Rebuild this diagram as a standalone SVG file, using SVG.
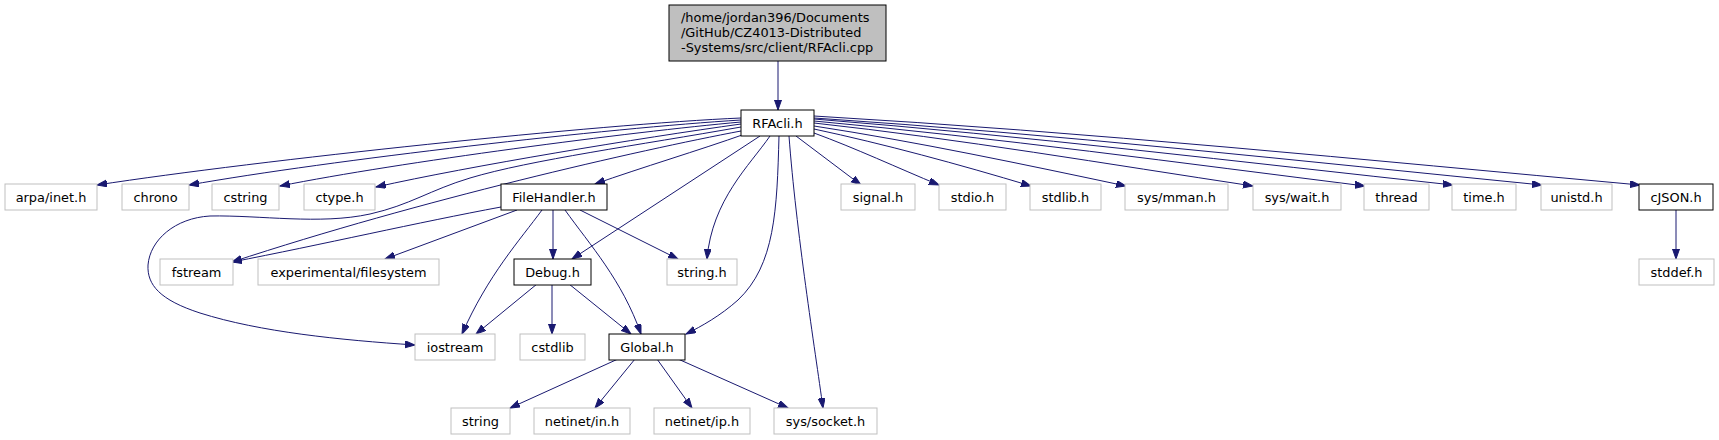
<svg xmlns="http://www.w3.org/2000/svg" width="1719" height="440" viewBox="0 0 1719 440">
<style>
.g rect{fill:#ffffff;stroke:#bfbfbf;stroke-width:1}
.d rect{fill:#ffffff;stroke:#000000;stroke-width:1}
text{font-family:"DejaVu Sans","Liberation Sans",sans-serif;font-size:12.9px;fill:#000000}
.c{text-anchor:middle}
#edges path{fill:none;stroke:#191970;stroke-width:1;marker-end:url(#ah)}
</style>
<defs>
<marker id="ah" markerUnits="userSpaceOnUse" markerWidth="11" markerHeight="8" refX="10" refY="3.5" orient="auto">
<polygon points="0,0 10,3.5 0,7" fill="#191970" stroke="#191970" stroke-width="1"/>
</marker>
</defs>
<rect width="1719" height="440" fill="#ffffff"/>
<g id="edges">
<path d="M778,61 L778,110"/>
<path d="M741,118 C600,124 260,160 97,185"/>
<path d="M741,120 C610,128 330,160 189,185"/>
<path d="M741,122 C630,132 400,162 280,186"/>
<path d="M741,124 C640,138 470,166 376,187"/>
<path d="M741,127 C640,145 530,160 470,178 C430,190 410,205 370,214 C320,225 260,215 210,216 C175,218 150,240 148,265 C147,285 160,300 200,313 C260,332 340,340 415,345"/>
<path d="M741,131 C640,150 420,200 232,262"/>
<path d="M745,134 C700,150 640,168 595,184"/>
<path d="M760,136 L572,259"/>
<path d="M770,136 C750,165 712,200 707,259"/>
<path d="M779,136 C777,210 775,265 738,300 C720,316 702,326 686,334"/>
<path d="M789,136 C796,230 815,350 823,408"/>
<path d="M796,136 L861,185"/>
<path d="M814,133 C855,148 898,168 939,185"/>
<path d="M814,129 C884,144 958,164 1031,186"/>
<path d="M814,126 C918,142 1022,164 1126,186"/>
<path d="M814,123 C960,139 1107,164 1253,186"/>
<path d="M814,121 C998,138 1181,163 1365,186"/>
<path d="M814,119 C1027,136 1240,162 1453,185"/>
<path d="M814,118 C1057,134 1299,161 1542,185"/>
<path d="M814,116 C1089,132 1365,160 1640,185"/>
<path d="M1676,210 L1676,259"/>
<path d="M501,207 C420,222 320,245 232,262"/>
<path d="M517,210 L385,259"/>
<path d="M542,210 C520,240 488,275 462,334"/>
<path d="M553,210 L553,259"/>
<path d="M565,210 C590,245 622,280 641,334"/>
<path d="M580,210 L678,259"/>
<path d="M537,284 L476,334"/>
<path d="M552,284 L552,334"/>
<path d="M569,284 L631,334"/>
<path d="M618,359 L510,408"/>
<path d="M635,359 L595,408"/>
<path d="M657,359 L692,408"/>
<path d="M678,359 L788,408"/>
</g>
<g id="n_root"><rect x="669" y="5" width="217" height="56" fill="#bfbfbf" stroke="#000000"/><text x="681" y="21.5">/home/jordan396/Documents</text><text x="681" y="36.5">/GitHub/CZ4013-Distributed</text><text x="681" y="51.5">-Systems/src/client/RFAcli.cpp</text></g>
<g id="n_rfacli" class="d"><rect x="741" y="110" width="73" height="26"/><text class="c" x="777.5" y="127.5">RFAcli.h</text></g>
<g id="n_arpa" class="g"><rect x="5" y="184" width="92" height="26"/><text class="c" x="51" y="201.5">arpa/inet.h</text></g>
<g id="n_chrono" class="g"><rect x="122" y="184" width="67" height="26"/><text class="c" x="155.5" y="201.5">chrono</text></g>
<g id="n_cstring" class="g"><rect x="212" y="184" width="67" height="26"/><text class="c" x="245.5" y="201.5">cstring</text></g>
<g id="n_ctype" class="g"><rect x="304" y="184" width="71" height="26"/><text class="c" x="339.5" y="201.5">ctype.h</text></g>
<g id="n_filehandler" class="d"><rect x="501" y="184" width="106" height="26"/><text class="c" x="554" y="201.5">FileHandler.h</text></g>
<g id="n_signal" class="g"><rect x="841" y="184" width="74" height="26"/><text class="c" x="878" y="201.5">signal.h</text></g>
<g id="n_stdio" class="g"><rect x="939" y="184" width="67" height="26"/><text class="c" x="972.5" y="201.5">stdio.h</text></g>
<g id="n_stdlib" class="g"><rect x="1030" y="184" width="71" height="26"/><text class="c" x="1065.5" y="201.5">stdlib.h</text></g>
<g id="n_mman" class="g"><rect x="1125" y="184" width="103" height="26"/><text class="c" x="1176.5" y="201.5">sys/mman.h</text></g>
<g id="n_wait" class="g"><rect x="1253" y="184" width="88" height="26"/><text class="c" x="1297" y="201.5">sys/wait.h</text></g>
<g id="n_thread" class="g"><rect x="1364" y="184" width="65" height="26"/><text class="c" x="1396.5" y="201.5">thread</text></g>
<g id="n_time" class="g"><rect x="1452" y="184" width="64" height="26"/><text class="c" x="1484" y="201.5">time.h</text></g>
<g id="n_unistd" class="g"><rect x="1541" y="184" width="71" height="26"/><text class="c" x="1576.5" y="201.5">unistd.h</text></g>
<g id="n_cjson" class="d"><rect x="1639" y="184" width="74" height="26"/><text class="c" x="1676" y="201.5">cJSON.h</text></g>
<g id="n_stddef" class="g"><rect x="1639" y="259" width="75" height="26"/><text class="c" x="1676.5" y="276.5">stddef.h</text></g>
<g id="n_fstream" class="g"><rect x="160" y="259" width="73" height="26"/><text class="c" x="196.5" y="276.5">fstream</text></g>
<g id="n_expfs" class="g"><rect x="258" y="259" width="181" height="26"/><text class="c" x="348.5" y="276.5">experimental/filesystem</text></g>
<g id="n_debug" class="d"><rect x="514" y="259" width="77" height="26"/><text class="c" x="552.5" y="276.5">Debug.h</text></g>
<g id="n_stringh" class="g"><rect x="667" y="259" width="70" height="26"/><text class="c" x="702" y="276.5">string.h</text></g>
<g id="n_iostream" class="g"><rect x="415" y="334" width="80" height="26"/><text class="c" x="455" y="351.5">iostream</text></g>
<g id="n_cstdlib" class="g"><rect x="520" y="334" width="65" height="26"/><text class="c" x="552.5" y="351.5">cstdlib</text></g>
<g id="n_global" class="d"><rect x="609" y="334" width="76" height="26"/><text class="c" x="647" y="351.5">Global.h</text></g>
<g id="n_string" class="g"><rect x="451" y="408" width="59" height="26"/><text class="c" x="480.5" y="425.5">string</text></g>
<g id="n_netin" class="g"><rect x="534" y="408" width="96" height="26"/><text class="c" x="582" y="425.5">netinet/in.h</text></g>
<g id="n_netip" class="g"><rect x="654" y="408" width="96" height="26"/><text class="c" x="702" y="425.5">netinet/ip.h</text></g>
<g id="n_socket" class="g"><rect x="774" y="408" width="103" height="26"/><text class="c" x="825.5" y="425.5">sys/socket.h</text></g>
</svg>
